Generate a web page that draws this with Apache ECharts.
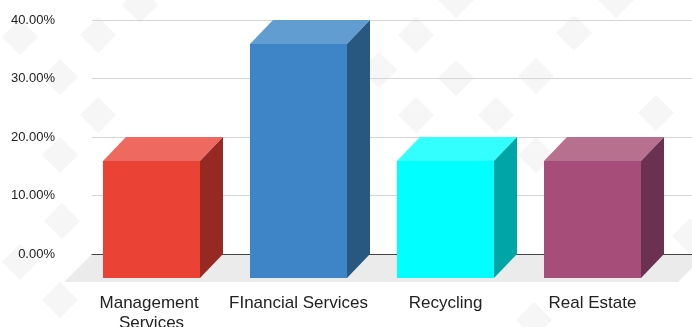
<!DOCTYPE html>
<html>
<head>
<meta charset="utf-8">
<script src="https://cdn.jsdelivr.net/npm/echarts@6/dist/echarts.min.js"></script>
<style>
html,body{margin:0;padding:0;background:#fff;}
#chart{width:692px;height:327px;}
</style>
</head>
<body>
<div id="chart"></div>
<script>
// ---- data ----
const categories = ['Management Services', 'FInancial Services', 'Recycling', 'Real Estate'];
const values = [20, 40, 20, 20];           // percent
const yTicks = [0, 10, 20, 30, 40];        // percent tick labels

// ---- styles ----
const frontColors = ['#EA4335', '#3D85C6', '#00FFFF', '#A64D79'];
const topColors   = ['#EE6960', '#629DD2', '#33FFFF', '#B8708F'];
const sideColors  = ['#962A22', '#28577F', '#00A6A6', '#6A3150'];
const DX = 23, DY = 24;

// watermark diamonds (decoration)
const diamonds = [[20,37],[98,35],[60,77],[98,115],[60,155],[416,35],[574,33],[536,76],[456,78],
  [416,115],[496,115],[656,113],[536,155],[62,221],[379,70],[140,5],[456,0],[616,0],[60,300],[20,262],[534,320],[690,236]];

const chart = echarts.init(document.getElementById('chart'), null, {renderer: 'canvas'});

const graphics = diamonds.map(([x, y]) => ({
  type: 'polygon', z: -10, silent: true,
  shape: {points: [[x, y - 18], [x + 18, y], [x, y + 18], [x - 18, y]]},
  style: {fill: '#f6f6f6'}
}));
// floor
graphics.push({
  type: 'polygon', z: -5, silent: true,
  shape: {points: [[92, 254], [706, 254], [678, 282], [64, 282]]},
  style: {fill: '#ebebeb'}
});

const option = {
  animation: false,
  backgroundColor: '#fff',
  graphic: graphics,
  grid: [
    {left: 92, right: 0, top: 20, bottom: 73, outerBoundsMode: 'none', containLabel: false},   // back plane
    {left: 78, right: 26, top: 44, bottom: 49, outerBoundsMode: 'none', containLabel: false}   // front plane
  ],
  xAxis: [
    {
      type: 'category', gridIndex: 0, data: categories,
      axisLine: {show: true, lineStyle: {color: '#444', width: 1}},
      axisTick: {show: false}, axisLabel: {show: false}, splitLine: {show: false}
    },
    {
      type: 'category', gridIndex: 1, data: categories,
      axisLine: {show: false}, axisTick: {show: false}, splitLine: {show: false},
      axisLabel: {
        margin: 15, color: '#222', fontSize: 17, lineHeight: 20,
        fontFamily: 'Liberation Sans, Arial, sans-serif',
        width: 147, overflow: 'break', interval: 0
      }
    }
  ],
  yAxis: [
    {
      type: 'value', gridIndex: 0, min: yTicks[0], max: yTicks[yTicks.length - 1], interval: 10,
      axisLine: {show: false}, axisTick: {show: false},
      axisLabel: {
        margin: 37, color: '#222', fontSize: 13,
        fontFamily: 'Liberation Sans, Arial, sans-serif',
        formatter: v => v.toFixed(2) + '%'
      },
      splitLine: {lineStyle: {color: '#d6d6d6', width: 1}}
    },
    {
      type: 'value', gridIndex: 1, min: yTicks[0], max: yTicks[yTicks.length - 1], interval: 10,
      show: false, splitLine: {show: false}
    }
  ],
  series: [{
    type: 'custom',
    xAxisIndex: 1, yAxisIndex: 1,
    data: values.map((v, i) => [i, v]),
    renderItem: function (params, api) {
      const i = api.value(0);
      const top = api.coord([i, api.value(1)]);
      const base = api.coord([i, 0]);
      const w = api.size([1, 0])[0] * 0.66;
      const x0 = top[0] - w / 2, x1 = top[0] + w / 2;
      const yt = top[1], yb = base[1];
      return {
        type: 'group',
        children: [
          {type: 'rect', shape: {x: x0, y: yt, width: w, height: yb - yt},
           style: {fill: frontColors[i]}},
          {type: 'polygon', shape: {points: [[x0, yt], [x1, yt], [x1 + DX, yt - DY], [x0 + DX, yt - DY]]},
           style: {fill: topColors[i]}},
          {type: 'polygon', shape: {points: [[x1, yt], [x1 + DX, yt - DY], [x1 + DX, yb - DY], [x1, yb]]},
           style: {fill: sideColors[i]}}
        ]
      };
    }
  }]
};
chart.setOption(option);
</script>
</body>
</html>
